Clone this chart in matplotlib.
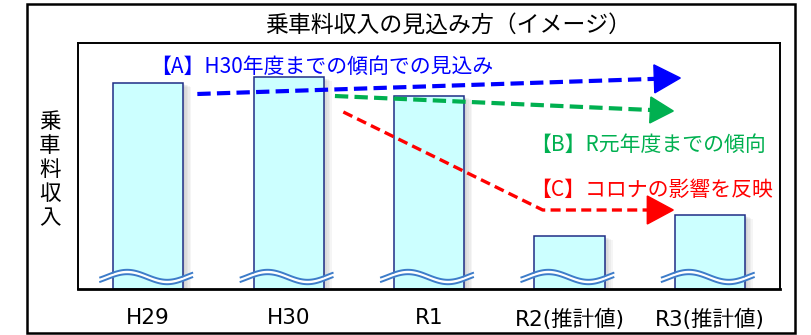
import numpy as np
import matplotlib
matplotlib.use('Agg')
import matplotlib.pyplot as plt
from matplotlib.patches import Rectangle, Polygon

plt.rcParams['font.family'] = ['Noto Sans CJK JP', 'DejaVu Sans']

# data (arbitrary units)
years = ['H29', 'H30', 'R1', 'R2(推計値)', 'R3(推計値)']
revenue = [206, 212, 193, 53, 74]

# projection lines (x in category units, y in revenue units)
line_a = ([0.35, 3.79], [195, 211])
line_b = ([1.33, 3.74], [193, 178])
line_c = ([1.39, 2.81, 3.74], [177, 79, 79])

W, H = 811, 335
fig = plt.figure(figsize=(W / 100, H / 100), dpi=100)


def fx(px):
    return px / W


def fy(py):
    return 1 - py / H


ax = fig.add_axes([fx(78), fy(289), fx(780) - fx(78), fy(43) - fy(289)])
ax.set_xlim(-0.5, 4.5)
ax.set_ylim(0, 246)

x = np.arange(len(years))
bw = 0.5

# soft shadow right of the bars
for k in range(1, 6):
    ax.bar(x + k * 1.6 / 140.4, revenue, width=bw, bottom=-k * 0.8,
           color='#606060', alpha=0.06, zorder=1, linewidth=0)

ax.bar(x, revenue, width=bw, color='#ccffff', edgecolor='#1f2d86',
       linewidth=1.1, zorder=2)

# break marks on each bar
t = np.linspace(0, 92, 80)
for c in x:
    xs = c - 48 / 140.4 + t / 140.4
    ys = 12 + 5 * np.sin(2 * np.pi * t / 80 - 0.55)
    ax.fill_between(xs, ys - 2, ys + 2, color='white', zorder=3, linewidth=0)
    ax.plot(xs, ys + 2.2, color='#3d7cc9', lw=1.4, zorder=4)
    ax.plot(xs, ys - 2.2, color='#3d7cc9', lw=1.4, zorder=4)


def arrow(xs, ys, color, lw, dashes, head_len, head_half):
    # stop the dashed line at the head base, then draw a filled head
    p = ax.transData.transform(np.column_stack([xs, ys]))
    tip = p[-1]
    d = tip - p[-2]
    d = d / np.hypot(*d)
    n = np.array([-d[1], d[0]])
    base = tip - d * head_len
    pts = p.copy()
    pts[-1] = base + d * 2
    line = ax.transData.inverted().transform(pts)
    ax.plot(line[:, 0], line[:, 1], color=color, lw=lw, dashes=dashes,
            zorder=5, clip_on=False)
    head = np.array([tip, base + n * head_half, base - n * head_half])
    ax.add_patch(Polygon(ax.transData.inverted().transform(head), closed=True,
                         color=color, zorder=5, clip_on=False))


arrow(*line_a, '#0000ff', 3.0, (3.2, 1.5), 26, 14)
arrow(*line_b, '#00b050', 3.0, (3.2, 1.5), 23, 13)
arrow(*line_c, '#ff0000', 2.4, (3.0, 1.6), 26, 14)

ax.set_xticks(x, years)
for lab in ax.get_xticklabels():
    lab.set_family(['DejaVu Sans', 'Noto Sans CJK JP'])
    lab.set_fontsize(15.5)
ax.set_yticks([])
ax.tick_params(axis='x', length=0, pad=14)
for s in ax.spines.values():
    s.set_linewidth(1.4)
    s.set_color('black')
    s.set_zorder(6)
ax.spines['bottom'].set_linewidth(2)

fig.text(fx(448), fy(25), '乗車料収入の見込み方（イメージ）', fontsize=16.5,
         ha='center', va='center')
fig.text(fx(50), fy(170), '乗\n車\n料\n収\n入', fontsize=15.5, ha='center',
         va='center', linespacing=1.12)
fig.text(fx(150), fy(67), '【A】H30年度までの傾向での見込み', fontsize=15,
         color='#0000ff', ha='left', va='center')
fig.text(fx(530), fy(145), '【B】R元年度までの傾向', fontsize=15,
         color='#00b050', ha='left', va='center')
fig.text(fx(530), fy(190), '【C】コロナの影響を反映', fontsize=15,
         color='#ff0000', ha='left', va='center')

fig.patches.append(Rectangle((fx(27), fy(333)), fx(795) - fx(27), fy(4) - fy(333),
                             transform=fig.transFigure, fill=False,
                             edgecolor='black', linewidth=1.8, figure=fig))

fig.savefig('out.png', dpi=100)
